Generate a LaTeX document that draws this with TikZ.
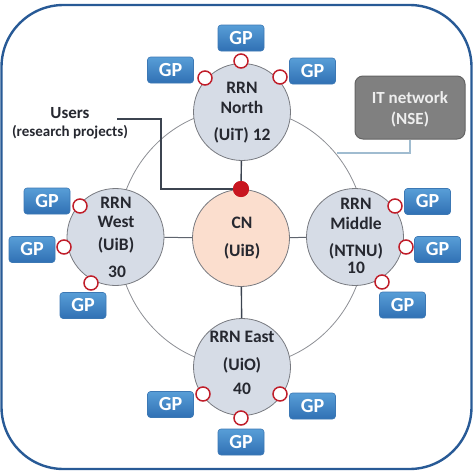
\documentclass[tikz,border=0pt]{standalone}
\usepackage{fontspec}
\setmainfont{Carlito}
\definecolor{frameblue}{RGB}{40,90,150}
\definecolor{cfill}{RGB}{214,220,230}
\definecolor{cnfill}{RGB}{251,222,206}
\definecolor{cborder}{RGB}{120,122,128}
\definecolor{ctext}{RGB}{38,40,48}
\definecolor{ringgray}{RGB}{140,142,148}
\definecolor{spoke}{RGB}{95,100,110}
\definecolor{spokedark}{RGB}{60,68,80}
\definecolor{gptop}{RGB}{88,158,215}
\definecolor{gpbot}{RGB}{48,112,180}
\definecolor{gpdraw}{RGB}{60,120,180}
\definecolor{cred}{RGB}{192,30,42}
\definecolor{dotred}{RGB}{200,22,32}
\definecolor{itfill}{RGB}{128,128,128}
\definecolor{itdraw}{RGB}{100,100,100}
\definecolor{ittext}{RGB}{238,238,238}
\definecolor{itline}{RGB}{160,188,208}
\begin{document}
\begin{tikzpicture}[x=1pt,y=-1pt,
  rrn/.style={circle,draw=cborder,fill=cfill,line width=0.8pt,minimum size=97pt,inner sep=0pt},
  cnode/.style={rrn,fill=cnfill},
  txt/.style={font=\bfseries\fontsize{17.5}{17.5}\selectfont,text=ctext,inner sep=0pt},
  gp/.style={rounded corners=3pt,minimum width=46pt,minimum height=26pt,inner sep=0pt,
    top color=gptop,bottom color=gpbot,draw=gpdraw,line width=0.6pt,text=white,
    font=\bfseries\fontsize{20}{20}\selectfont},
  pin/.style={circle,draw=cred,fill=white,line width=1.5pt,minimum size=14pt,inner sep=0pt},
  ringline/.style={draw=ringgray,line width=0.8pt},
  spokeline/.style={draw=spoke,line width=1pt},
  spokedk/.style={draw=spokedark,line width=1.4pt},
  userline/.style={draw=spokedark,line width=2pt},
]
\useasboundingbox (0,0) rectangle (474,474);
% outer frame
\draw[frameblue,line width=2.4pt,rounded corners=62pt] (1.5,5) rectangle (471.5,469);
% ring
\draw[ringline] (241.5,237.5) ellipse [x radius=124, y radius=129];
% IT network
\node[draw=itdraw,fill=itfill,line width=1pt,rounded corners=8pt,minimum width=110pt,minimum height=63pt,inner sep=0pt] (it) at (410,107.5) {};
\node[font=\bfseries\fontsize{17}{17}\selectfont,text=ittext,inner sep=0pt] (it1) at (410,98) {IT network};
\node[font=\bfseries\fontsize{17}{17}\selectfont,text=ittext,inner sep=0pt] (it2) at (410,119) {(NSE)};
\coordinate (itEnd) at (337,153);
\draw[itline,line width=1.2pt] (it.south) |- (itEnd);
% main nodes
\node[cnode] (CN) at (241,238) {};
\node[rrn] (N) at (242,112) {};
\node[rrn] (W) at (115.5,237) {};
\node[rrn] (M) at (355,237) {};
\node[rrn] (E) at (242,367) {};
\node[circle,fill=dotred,minimum size=16pt,inner sep=0pt] (dot) at (241,189) {};
% spokes
\draw[spokeline] (CN) -- (W);
\draw[spokeline] (CN) -- (M);
\draw[spokedk] (CN) -- (E);
\draw[spokedk] (N) -- (dot);
% texts
\node[txt] (nt1) at (242,88) {RRN};
\node[txt] (nt2) at (242,107) {North};
\node[txt] (nt3) at (242,135) {(UiT) 12};
\node[txt] (ct1) at (242,223) {CN};
\node[txt] (ct2) at (242,251) {(UiB)};
\node[txt] (wt1) at (116,203) {RRN};
\node[txt] (wt2) at (116,222) {West};
\node[txt] (wt3) at (116,245) {(UiB)};
\node[txt] (wt4) at (117,272) {30};
\node[txt] (mt1) at (356,204) {RRN};
\node[txt] (mt2) at (356,223) {Middle};
\node[txt] (mt3) at (356,251) {(NTNU)};
\node[txt] (mt4) at (356,268) {10};
\node[txt] (et1) at (242,337) {RRN East};
\node[txt] (et2) at (242,365) {(UiO)};
\node[txt] (et3) at (242,389) {40};
% users
\node[txt,font=\bfseries\fontsize{17}{17}\selectfont] (users) at (70,113) {Users};
\node[txt,font=\bfseries\fontsize{15}{15}\selectfont] (users2) at (70,132) {(research projects)};
\coordinate (uStart) at (117,119);
\draw[userline] (uStart) -- (161,119) |- (dot.center);
\node[circle,fill=dotred,minimum size=16pt,inner sep=0pt] at (dot) {};
% GP boxes
\node[gp] (gN1) at (170.5,70) {GP};
\node[gp] (gN2) at (241,38) {GP};
\node[gp] (gN3) at (312.5,71) {GP};
\node[gp] (gW1) at (47,201) {GP};
\node[gp] (gW2) at (32,249.5) {GP};
\node[gp] (gW3) at (83,305.5) {GP};
\node[gp] (gM1) at (427.5,201.5) {GP};
\node[gp] (gM2) at (437.5,249.5) {GP};
\node[gp] (gM3) at (402.5,305) {GP};
\node[gp] (gE1) at (170.5,404.5) {GP};
\node[gp] (gE2) at (241,442) {GP};
\node[gp] (gE3) at (312.5,406) {GP};
% pins
\node[pin] (pN1) at (205,78) {};
\node[pin] (pN2) at (241,61) {};
\node[pin] (pN3) at (280,77) {};
\node[pin] (pW1) at (80,206) {};
\node[pin] (pW2) at (64,247) {};
\node[pin] (pW3) at (91,283) {};
\node[pin] (pM1) at (395,206) {};
\node[pin] (pM2) at (406,247) {};
\node[pin] (pM3) at (382,282) {};
\node[pin] (pE1) at (203,394) {};
\node[pin] (pE2) at (241,418) {};
\node[pin] (pE3) at (280,394) {};
\end{tikzpicture}
\end{document}
